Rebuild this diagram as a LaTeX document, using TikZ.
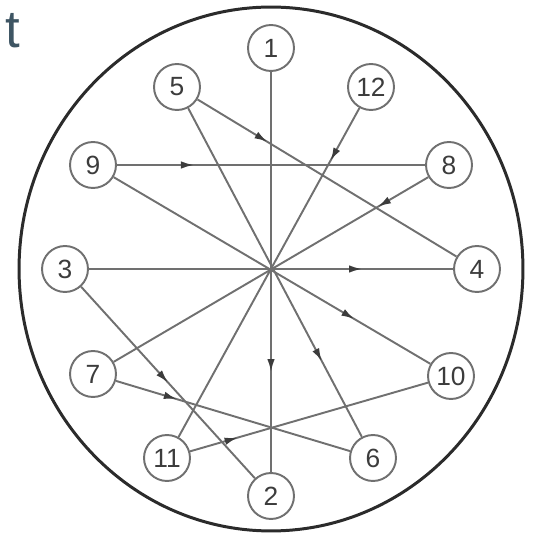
\documentclass[tikz,border=0pt]{standalone}
\usepackage{fontspec}
\setsansfont{Liberation Sans}
\usepackage{xcolor}
\definecolor{rimGray}{HTML}{2B2B2B}
\definecolor{lineGray}{HTML}{707070}
\definecolor{digitGray}{HTML}{3C3C3C}
\definecolor{tSlate}{HTML}{3E5563}
\usepackage{tikz}
\usetikzlibrary{arrows.meta, decorations.markings}

\begin{document}
\begin{tikzpicture}[
  x=0.02cm, y=0.02cm,
  team/.style={circle, draw=lineGray, line width=1.1pt, fill=white, minimum size=0.92cm, inner sep=0pt, text=digitGray, font=\sffamily\fontsize{15}{15}\selectfont},
  link/.style={draw=lineGray, line width=1.1pt, postaction={decorate},
    decoration={markings, mark=at position #1 with {\arrow[digitGray]{Latex[length=2.6mm, width=1.5mm]}}}},
]
  \useasboundingbox (0,0) rectangle (538,538);
  \coordinate (hub) at (271,269);
  \draw[rimGray, line width=1.7pt] (hub) ellipse [x radius=5.04cm, y radius=5.24cm];
  \node[anchor=base west, inner sep=0pt, text=tSlate, font=\sffamily\fontsize{30}{30}\selectfont] (cut) at (5,490) {t};

  \node[team] (n1) at (271,490) {1};
  \node[team] (n12) at (371,451) {12};
  \node[team] (n8) at (449,373) {8};
  \node[team] (n4) at (477,269) {4};
  \node[team] (n10) at (451,162) {10};
  \node[team] (n6) at (373,80) {6};
  \node[team] (n2) at (271,42) {2};
  \node[team] (n11) at (167,80) {11};
  \node[team] (n7) at (93,164) {7};
  \node[team] (n3) at (65,269) {3};
  \node[team] (n9) at (93,373) {9};
  \node[team] (n5) at (177,451) {5};

  % lines through the middle
  \draw[link=0.75] (n1) -- (n2);
  \draw[link=0.75] (n3) -- (n4);
  \draw[link=0.76] (n9) -- (n10);
  \draw[link=0.77] (n5) -- (n6);
  \draw[link=0.16] (n12) -- (n11);
  \draw[link=0.16] (n8) -- (n7);
  % side chords
  \draw[link=0.25] (n9) -- (n8);
  \draw[link=0.27] (n5) -- (n4);
  \draw[link=0.5] (n3) -- (n2);
  \draw[link=0.26] (n7) -- (n6);
  \draw[link=0.2] (n11) -- (n10);
\end{tikzpicture}
\end{document}
